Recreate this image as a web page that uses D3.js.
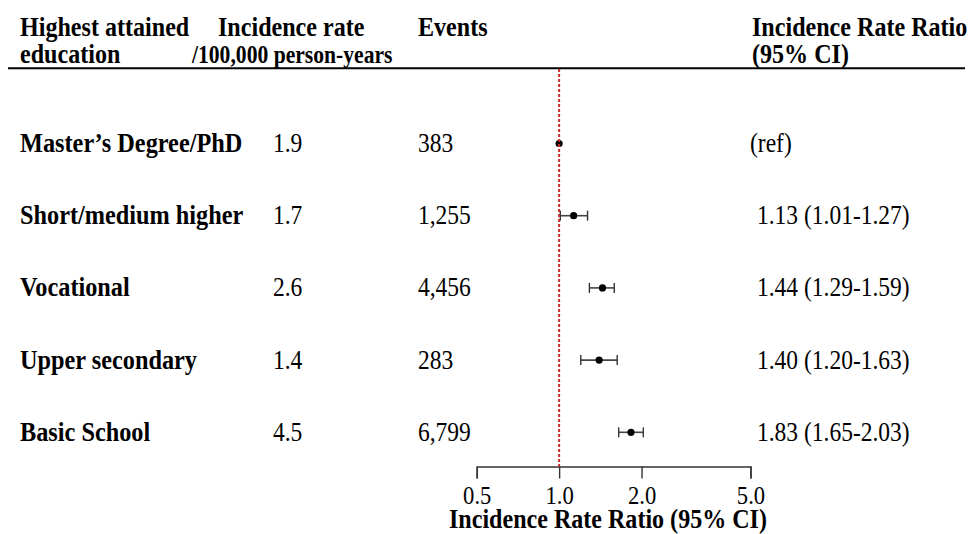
<!DOCTYPE html>
<html>
<head>
<meta charset="utf-8">
<script src="https://cdn.jsdelivr.net/npm/d3@7"></script>
<style>
  html, body { margin: 0; padding: 0; background: #fff; }
  svg text { font-family: "Liberation Serif", "Times New Roman", serif; fill: #000; }
</style>
</head>
<body>
<svg id="chart" width="969" height="534"></svg>
<script>
// ---- data ----
const categories = ["Master\u2019s Degree/PhD", "Short/medium higher", "Vocational", "Upper secondary", "Basic School"];
const incidenceRates = ["1.9", "1.7", "2.6", "1.4", "4.5"];
const events = ["383", "1,255", "4,456", "283", "6,799"];
const irr = [1.00, 1.13, 1.44, 1.40, 1.83];
const ciLow = [null, 1.01, 1.29, 1.20, 1.65];
const ciHigh = [null, 1.27, 1.59, 1.63, 2.03];
const irrLabels = ["(ref)", "1.13 (1.01-1.27)", "1.44 (1.29-1.59)", "1.40 (1.20-1.63)", "1.83 (1.65-2.03)"];
const tickValues = [0.5, 1.0, 2.0, 5.0];
const tickLabels = ["0.5", "1.0", "2.0", "5.0"];
const axisTitle = "Incidence Rate Ratio (95% CI)";

// ---- layout ----
const svg = d3.select("#chart");
const x = d3.scaleLog().domain([0.5, 5]).range([476.7, 750.5]);
const rowCenter = d3.scalePoint().domain(d3.range(categories.length)).range([143.5, 432.3]);
const baselineOffset = 8.5;
const SX = 0.87;

function txt(g, str, tx, ty, size, bold, sx, anchor) {
  return g.append("text")
    .attr("transform", `translate(${tx},${ty}) scale(${sx || SX},1)`)
    .attr("font-size", size)
    .attr("font-weight", bold ? "bold" : "normal")
    .attr("text-anchor", anchor || "start")
    .text(str);
}

// header
const hdr = svg.append("g");
txt(hdr, "Highest attained", 20, 36, 28, true, 0.86);
txt(hdr, "education", 20, 63, 28, true, 0.86);
txt(hdr, "Incidence rate", 218, 36, 28, true, 0.86);
txt(hdr, "/100,000 person-years", 192, 63, 25, true, 0.865);
txt(hdr, "Events", 418, 36, 28, true, 0.86);
txt(hdr, "Incidence Rate Ratio", 752, 36, 28, true, 0.86);
txt(hdr, "(95% CI)", 752, 63, 28, true, 0.86);
svg.append("line").attr("x1", 8).attr("x2", 965).attr("y1", 68.3).attr("y2", 68.3)
  .attr("stroke", "#000").attr("stroke-width", 2);

// rows text
const rows = svg.append("g");
categories.forEach((c, i) => {
  const y = rowCenter(i) + baselineOffset;
  txt(rows, c, 20, y, 27, true, 0.9);
  txt(rows, incidenceRates[i], 273, y, 27, false);
  txt(rows, events[i], 418, y, 27, false);
  txt(rows, irrLabels[i], i === 0 ? 750 : 757, y, 27, false);
});

// CIs
const ci = svg.append("g");
irr.forEach((v, i) => {
  const y = rowCenter(i);
  if (ciLow[i] != null) {
    ci.append("line").attr("x1", x(ciLow[i])).attr("x2", x(ciHigh[i])).attr("y1", y).attr("y2", y)
      .attr("stroke", "#444").attr("stroke-width", 1.6);
    [ciLow[i], ciHigh[i]].forEach(b => {
      ci.append("line").attr("x1", x(b)).attr("x2", x(b)).attr("y1", y - 5).attr("y2", y + 5)
        .attr("stroke", "#333").attr("stroke-width", 1.4);
    });
  }
  ci.append("circle").attr("cx", x(v)).attr("cy", y).attr("r", 3.6).attr("fill", "#000");
});

// axis
const axisY = 466.5;
const axisG = svg.append("g").attr("transform", `translate(0,${axisY})`)
  .call(d3.axisBottom(x).tickValues(tickValues).tickFormat((d, i) => tickLabels[i]).tickSizeOuter(0).tickSize(12));
axisG.select(".domain").attr("stroke", "#333").attr("stroke-width", 1.4);
axisG.selectAll(".tick line").attr("stroke", "#333").attr("stroke-width", 1.4);
axisG.selectAll(".tick text")
  .attr("y", null).attr("dy", null)
  .attr("transform", `translate(0,37.5) scale(${SX},1)`)
  .attr("font-size", 26).attr("fill", "#000");
txt(svg, axisTitle, 608, 528, 27.5, true, 0.875, "middle");

// reference line
svg.append("line").attr("x1", x(1)).attr("x2", x(1)).attr("y1", 69).attr("y2", axisY)
  .attr("stroke", "#cc2a2a").attr("stroke-width", 2).attr("stroke-dasharray", "3,2");
</script>
</body>
</html>
